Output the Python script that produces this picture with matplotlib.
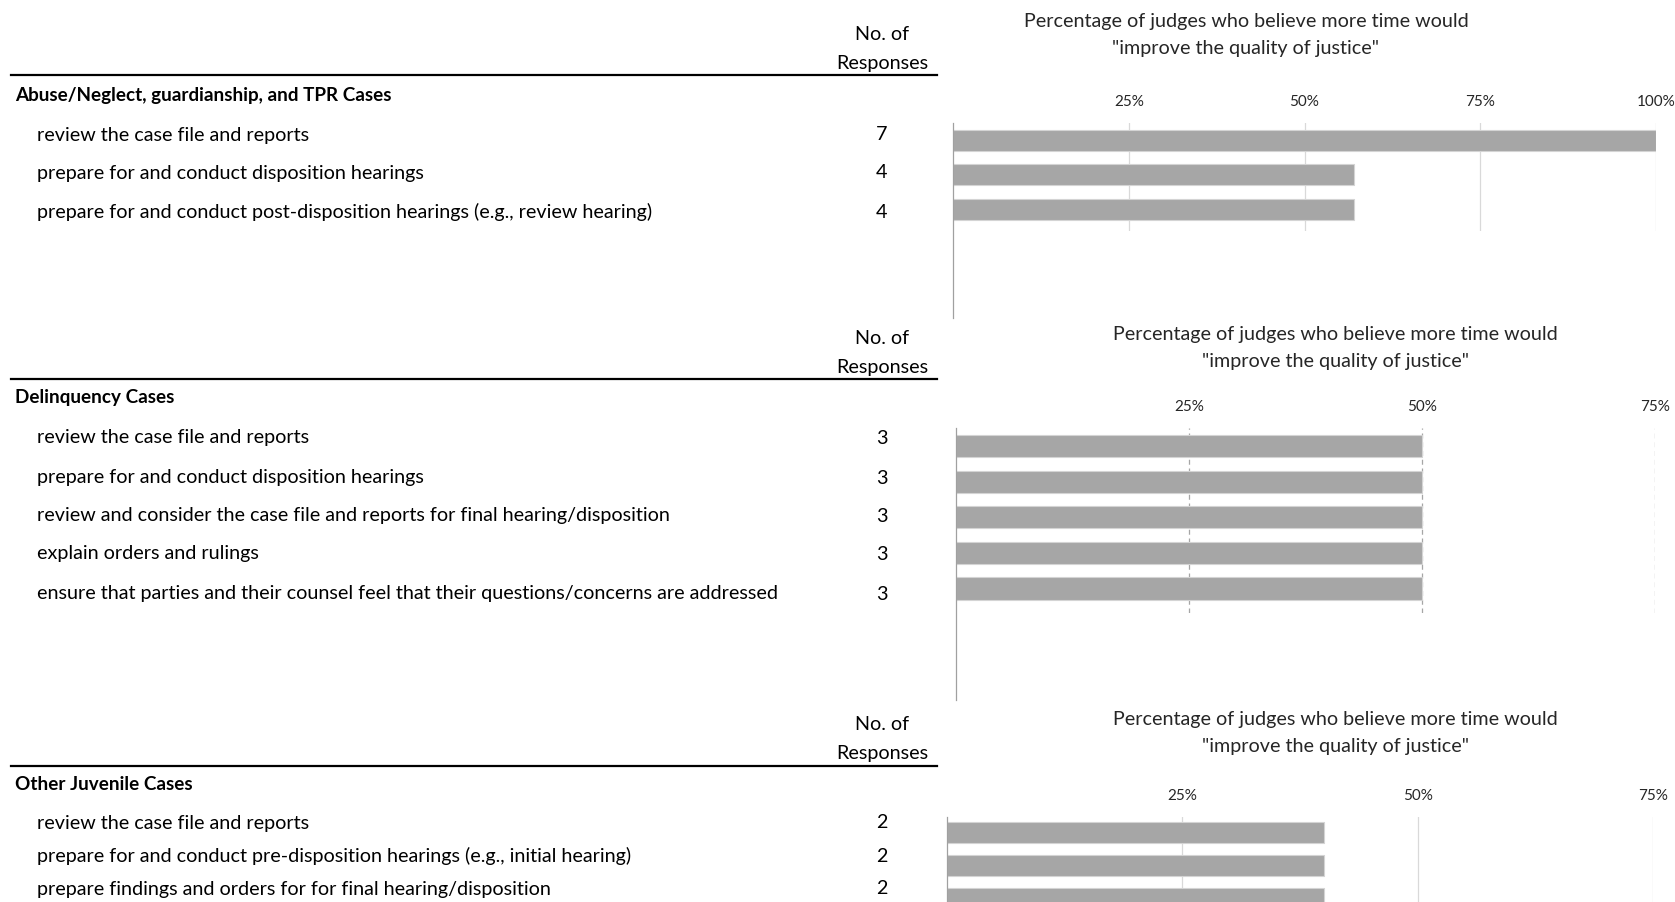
import matplotlib
matplotlib.use("Agg")
import matplotlib.pyplot as plt
from matplotlib.lines import Line2D

# ---- survey data ----
sections = ["Abuse/Neglect, guardianship, and TPR Cases",
            "Delinquency Cases",
            "Other Juvenile Cases"]

abuse_tasks = ["review the case file and reports",
               "prepare for and conduct disposition hearings",
               "prepare for and conduct post-disposition hearings (e.g., review hearing)"]
abuse_counts = [7, 4, 4]
abuse_pct = [100, 57.1, 57.1]

delinq_tasks = ["review the case file and reports",
                "prepare for and conduct disposition hearings",
                "review and consider the case file and reports for final hearing/disposition",
                "explain orders and rulings",
                "ensure that parties and their counsel feel that their questions/concerns are addressed"]
delinq_counts = [3, 3, 3, 3, 3]
delinq_pct = [50, 50, 50, 50, 50]

other_tasks = ["review the case file and reports",
               "prepare for and conduct pre-disposition hearings (e.g., initial hearing)",
               "prepare findings and orders for for final hearing/disposition"]
other_counts = [2, 2, 2]
other_pct = [40, 40, 40]

chart_title = 'Percentage of judges who believe more time would\n"improve the quality of justice"'

W, H = 1675, 902
plt.rcParams['font.family'] = ['Lato', 'DejaVu Sans']

fig = plt.figure(figsize=(W / 100, H / 100), dpi=100)


def fx(px):
    return px / W


def fy(py):
    return 1 - py / H


def panel(section, tasks, counts, pct, xmax, ticks, lay):
    # table part on the left
    fig.text(fx(882), fy(lay['no']), "No. of", ha='center', va='center', fontsize=14.2)
    fig.text(fx(882), fy(lay['no'] + 28), "Responses", ha='center', va='center', fontsize=14.2)
    fig.add_artist(Line2D([fx(11), fx(937)], [fy(lay['rule'])] * 2, color='black', lw=1.6))
    fig.text(fx(15), fy(lay['sec']), section, ha='left', va='center',
             fontsize=13.6, fontweight='bold')
    for t, c, ry in zip(tasks, counts, lay['rows']):
        fig.text(fx(37), fy(ry), t, ha='left', va='center', fontsize=14.2)
        fig.text(fx(882), fy(ry), str(c), ha='center', va='center', fontsize=14.2)

    # bar chart on the right
    l, r, top, bot = lay['ax']
    ax = fig.add_axes([fx(l), fy(bot), fx(r) - fx(l), (bot - top) / H])
    ypos = list(range(len(pct)))
    ax.barh(ypos, pct, height=lay['bh'], color='#a6a6a6', edgecolor='#d4d4d4', lw=0.8, zorder=3)
    ax.set_xlim(0, xmax)
    ax.set_ylim(lay['ylim'])
    ax.set_yticks([])
    ax.set_xticks(ticks)
    ax.set_xticklabels([f"{t}%" for t in ticks])
    ax.xaxis.tick_top()
    ax.tick_params(axis='x', length=0, pad=lay['pad'], labelsize=11, labelcolor='#262626')
    for s in ax.spines.values():
        s.set_visible(False)
    ax.grid(axis='x', color=lay['gcolor'], lw=0.9, ls=lay['gls'], zorder=0)
    ax.patch.set_alpha(0)

    fig.add_artist(Line2D([fx(l), fx(l)], [fy(top), fy(lay['vline'])], color='#a0a0a0', lw=0.9))
    fig.text(fx(lay['tx']), fy(lay['ty']), chart_title, ha='center', va='center',
             fontsize=14.2, color='#262626', linespacing=1.7)


panel(sections[0], abuse_tasks, abuse_counts, abuse_pct, 100, [25, 50, 75, 100],
      dict(no=35, rule=75, sec=96, rows=[135, 173, 212],
           ax=(953, 1656, 123, 231), ylim=(2.63, -0.5), bh=0.6, pad=10,
           gcolor='#d9d9d9', gls='-', vline=318, tx=1246, ty=35))

panel(sections[1], delinq_tasks, delinq_counts, delinq_pct, 75, [25, 50, 75],
      dict(no=339, rule=379, sec=398, rows=[438, 478, 516, 554, 594],
           ax=(956, 1655, 428, 613), ylim=(4.69, -0.52), bh=0.62, pad=10,
           gcolor='#a6a6a6', gls=(0, (4, 3)), vline=700, tx=1335, ty=348))

panel(sections[2], other_tasks, other_counts, other_pct, 75, [25, 50, 75],
      dict(no=725, rule=766, sec=785, rows=[823, 856, 889],
           ax=(947, 1653, 817, 940), ylim=(3.26, -0.47), bh=0.64, pad=10,
           gcolor='#d9d9d9', gls='-', vline=902, tx=1335, ty=733))

fig.savefig("out.png", dpi=100, facecolor='white')
